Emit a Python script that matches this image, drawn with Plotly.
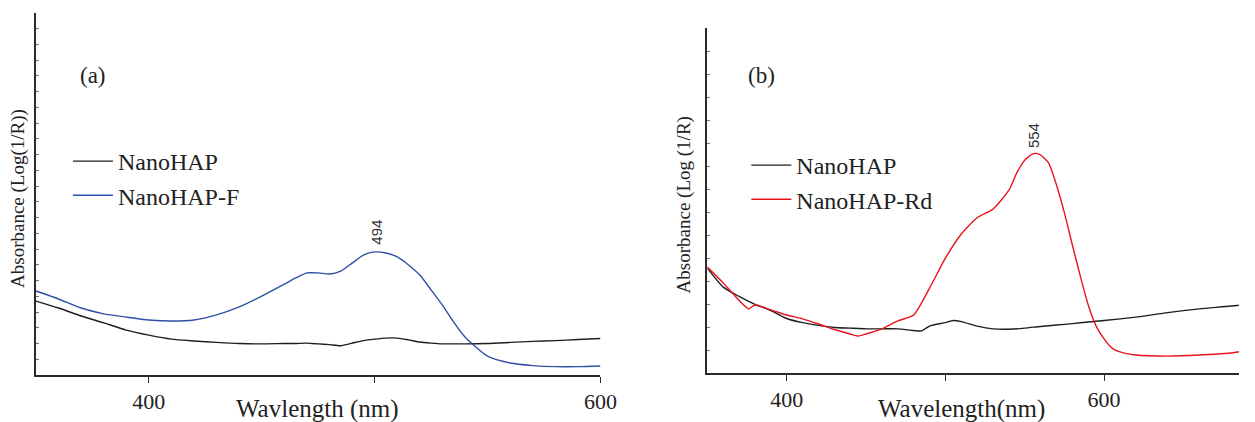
import plotly.graph_objects as go

# ---------------- data (panel a) ----------------
wl_a = [350, 360, 370, 380, 390, 400, 410, 420, 430, 440, 450, 460, 465, 470, 475,
        480, 485, 490, 495, 500, 505, 510, 515, 520, 525, 530, 535, 540, 550, 560,
        570, 580, 590, 600]
hap_f = [0.232, 0.210, 0.185, 0.169, 0.160, 0.152, 0.149, 0.152, 0.166, 0.188, 0.218,
         0.251, 0.268, 0.282, 0.282, 0.279, 0.287, 0.309, 0.331, 0.340, 0.337, 0.326,
         0.304, 0.276, 0.235, 0.193, 0.146, 0.105, 0.052, 0.033, 0.026, 0.023, 0.023, 0.025]
hap_a = [0.204, 0.185, 0.163, 0.144, 0.124, 0.110, 0.099, 0.094, 0.090, 0.087, 0.086,
         0.087, 0.087, 0.088, 0.086, 0.084, 0.081, 0.088, 0.095, 0.099, 0.102, 0.102,
         0.097, 0.091, 0.088, 0.086, 0.086, 0.086, 0.087, 0.090, 0.093, 0.095, 0.098, 0.101]

# ---------------- data (panel b) ----------------
wl_rd = [350, 360, 372, 376, 380, 390, 400, 410, 420, 430, 440, 445, 450, 460, 470,
         480, 490, 500, 510, 520, 530, 540, 545, 550, 555, 558, 560, 565, 570, 575,
         580, 585, 590, 595, 600, 605, 610, 620, 640, 660, 680, 690, 695]
hap_rd = [0.307, 0.261, 0.201, 0.186, 0.197, 0.183, 0.168, 0.157, 0.142, 0.126, 0.113,
          0.107, 0.113, 0.128, 0.151, 0.168, 0.246, 0.333, 0.403, 0.450, 0.475, 0.530,
          0.580, 0.617, 0.635, 0.636, 0.632, 0.609, 0.545, 0.464, 0.371, 0.281, 0.197,
          0.136, 0.099, 0.072, 0.061, 0.052, 0.049, 0.052, 0.058, 0.064, 0.062]
wl_b = [350, 360, 370, 380, 390, 400, 410, 420, 430, 440, 450, 460, 470, 480, 485,
        490, 500, 505, 510, 520, 530, 540, 550, 560, 570, 580, 590, 600, 620, 640,
        660, 680, 695]
hap_b = [0.304, 0.249, 0.222, 0.199, 0.181, 0.158, 0.146, 0.138, 0.132, 0.130, 0.128,
         0.128, 0.128, 0.123, 0.122, 0.136, 0.146, 0.152, 0.149, 0.136, 0.128, 0.127,
         0.130, 0.135, 0.139, 0.143, 0.148, 0.152, 0.162, 0.175, 0.186, 0.194, 0.202]

x_ticks = [400, 500, 600]
x_ticktext = ["400", "", "600"]

W, H = 1255, 422
KX = 1.012  # horizontal placement correction
SERIF = "Liberation Serif"
SANS = "Liberation Sans"


def px(x):
    return min(1.0, x * KX / W)


def py(y):
    return 1 - y / H


fig = go.Figure()
line_kw = dict(width=1.4, shape="spline", smoothing=0.6)
fig.add_trace(go.Scatter(x=wl_a, y=hap_a, mode="lines", name="NanoHAP",
                         line=dict(line_kw, color="#1e1e1e"), legend="legend",
                         xaxis="x", yaxis="y"))
fig.add_trace(go.Scatter(x=wl_a, y=hap_f, mode="lines", name="NanoHAP-F",
                         line=dict(line_kw, color="#2f4fa6"), legend="legend",
                         xaxis="x", yaxis="y"))
fig.add_trace(go.Scatter(x=wl_b, y=hap_b, mode="lines", name="NanoHAP",
                         line=dict(line_kw, color="#1e1e1e"), legend="legend2",
                         xaxis="x2", yaxis="y2"))
fig.add_trace(go.Scatter(x=wl_rd, y=hap_rd, mode="lines", name="NanoHAP-Rd",
                         line=dict(line_kw, color="#e8141c"), legend="legend2",
                         xaxis="x2", yaxis="y2"))

axis_common = dict(showline=True, linecolor="#2a2a2a", linewidth=1.5, showgrid=False,
                   zeroline=False, mirror=False)
xcommon = dict(axis_common, tickmode="array", tickvals=x_ticks, ticktext=x_ticktext,
               ticks="outside", ticklen=6, tickwidth=1.2, tickcolor="#2a2a2a",
               tickfont=dict(family=SERIF, size=22, color="#222"))
ycommon = dict(axis_common, ticks="inside", ticklen=3, tickwidth=1, tickcolor="#777",
               showticklabels=False, tickmode="linear", tick0=0)

legend_font = dict(family=SERIF, size=24, color="#222")
fig.update_layout(
    width=W, height=H,
    margin=dict(l=0, r=0, t=0, b=0),
    paper_bgcolor="white", plot_bgcolor="white",
    xaxis=dict(xcommon, domain=[px(36), px(601)], range=[350, 600], anchor="y"),
    yaxis=dict(ycommon, domain=[py(375), py(13)], range=[0, 1], dtick=1 / 23, anchor="x"),
    xaxis2=dict(xcommon, domain=[px(708), 1.0], range=[350, 685], anchor="y2"),
    yaxis2=dict(ycommon, domain=[py(373), py(28)], range=[0, 1], dtick=1 / 15, anchor="x2"),
    legend=dict(x=px(68), y=py(139), xanchor="left", yanchor="top",
                font=legend_font, bgcolor="rgba(0,0,0,0)",
                tracegroupgap=0, itemwidth=40),
    legend2=dict(x=px(747), y=py(143), xanchor="left", yanchor="top",
                 font=legend_font, bgcolor="rgba(0,0,0,0)",
                 tracegroupgap=0, itemwidth=40),
    showlegend=True,
)

ann = [
    dict(text="(a)", x=px(93), y=py(76), font=dict(family=SERIF, size=23, color="#222")),
    dict(text="(b)", x=px(762), y=py(75), font=dict(family=SERIF, size=23, color="#222")),
    dict(text="Wavlength (nm)", x=px(318), y=py(409), font=dict(family=SERIF, size=25, color="#222")),
    dict(text="Wavelength(nm)", x=px(962), y=py(409), font=dict(family=SERIF, size=25, color="#222")),
    dict(text="Absorbance (Log(1/R))", x=px(18), y=py(198), textangle=-90,
         font=dict(family=SERIF, size=19, color="#222")),
    dict(text="Absorbance (Log (1/R)", x=px(685), y=py(205), textangle=-90,
         font=dict(family=SERIF, size=19, color="#222")),
    dict(text="494", x=px(376), y=py(232), textangle=-90,
         font=dict(family=SANS, size=15, color="#333")),
    dict(text="554", x=px(1034), y=py(136), textangle=-90,
         font=dict(family=SANS, size=15, color="#333")),
]
for a in ann:
    a.update(xref="paper", yref="paper", showarrow=False, xanchor="center", yanchor="middle")
fig.update_layout(annotations=ann)

fig.write_html("out.html",
               config={"displayModeBar": False},
               post_script="document.body.style.margin='0';"
                           "document.documentElement.style.overflow='hidden';")
